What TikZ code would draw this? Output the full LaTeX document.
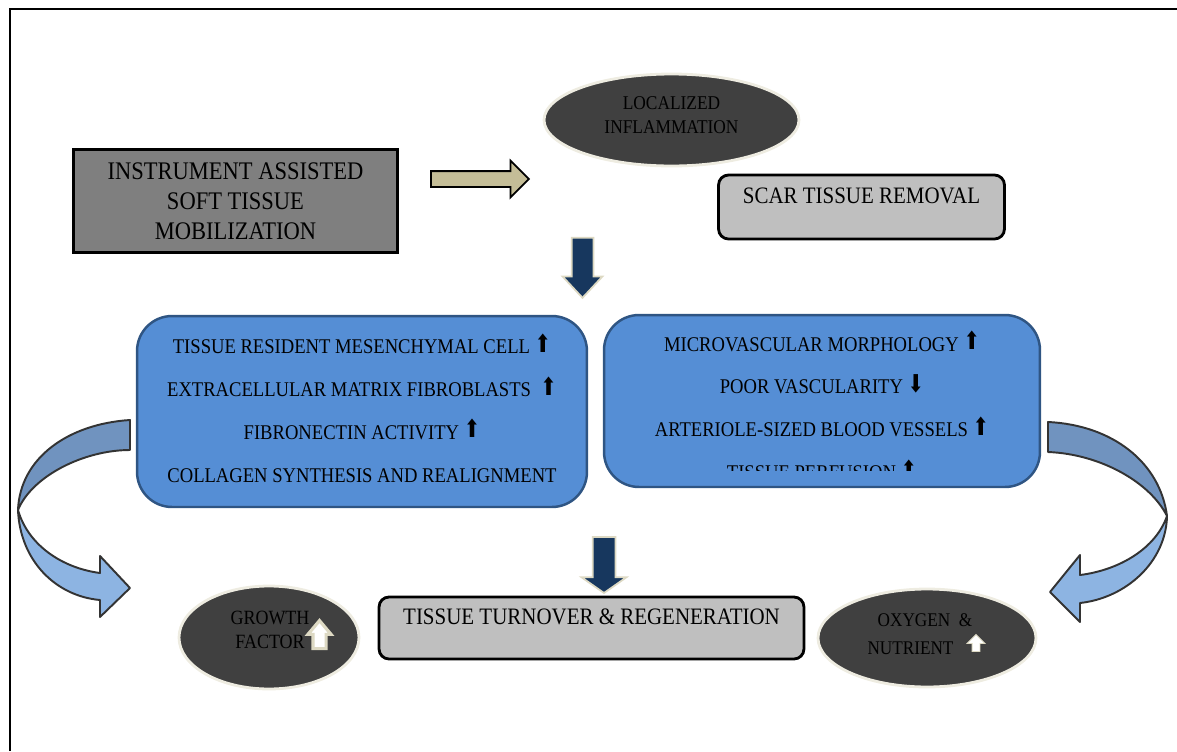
\documentclass[tikz,border=0pt]{standalone}
\usepackage{graphicx}
\usepackage{fontspec}
\setmainfont{Liberation Serif}[FakeStretch=0.89]
\newfontfamily\arrowfont{DejaVu Sans}
\usepackage{tikz}
\usetikzlibrary{shapes.geometric,shapes.arrows,positioning}

\definecolor{boxblue}{HTML}{558ED5}
\definecolor{boxedge}{HTML}{2F5583}
\definecolor{darkoval}{HTML}{404040}
\definecolor{ovaledge}{HTML}{EEECE1}
\definecolor{midgray}{HTML}{7F7F7F}
\definecolor{lightgray}{HTML}{BFBFBF}
\definecolor{arrowtan}{HTML}{C4BD97}
\definecolor{navy}{HTML}{17375E}
\definecolor{beige}{HTML}{DDD9C3}
\definecolor{ribbondark}{HTML}{7093BF}
\definecolor{ribbonlight}{HTML}{8DB4E2}

\newcommand\upmark{\raisebox{0.8pt}{\arrowfont\fontsize{14}{14}\selectfont\scalebox{0.8}[1]{⬆}}}
\newcommand\downmark{\raisebox{0.8pt}{\arrowfont\fontsize{14}{14}\selectfont\scalebox{0.8}[1]{⬇}}}

\begin{document}
\begin{tikzpicture}[x=0.02cm, y=-0.02cm]
	\tikzset{
		plainbox/.style = {rectangle, draw=black, line width=1.6pt, fill=midgray, align=center,
			font=\fontsize{14.4}{17}\selectfont},
		greybox/.style = {rectangle, rounded corners=0.2cm, draw=black, line width=1.6pt, fill=lightgray,
			font=\fontsize{13.4}{16}\selectfont, text height=0.31cm, text depth=0.44cm, inner sep=0pt},
		bluebox/.style = {rectangle, rounded corners=0.7cm, draw=boxedge, line width=1.4pt, fill=boxblue, inner sep=0pt},
		boxtext/.style = {align=center, font=\fontsize{11.9}{24.4}\selectfont},
		oval/.style = {ellipse, draw=ovaledge, line width=1.6pt, fill=darkoval, inner sep=0pt},
		ovaltext/.style = {align=center, text=black, font=\fontsize{11.1}{13.6}\selectfont},
		blockarrow/.style = {single arrow, draw, line width=1pt, single arrow tip angle=90},
		ribbon/.style = {draw=black!80, line width=1.1pt, line join=round},
	}
	\useasboundingbox (0,0) rectangle (1177,751);
	\draw[line width=1.4pt] (10,751) -- (10,9) -- (1177,9);

	% top row
	\node[plainbox, minimum width=6.48cm, minimum height=2.06cm] (iastm) at (235.5,201)
		{INSTRUMENT ASSISTED\\ SOFT TISSUE\\ MOBILIZATION};
	\node[oval, minimum width=5.1cm, minimum height=1.84cm] (inflam) at (671.5,120) {};
	\node[ovaltext] (inflamtext) at (671.5,115) {LOCALIZED\\ INFLAMMATION};
	\node[greybox, minimum width=5.72cm, minimum height=1.28cm] (scar) at (861.5,207) {SCAR TISSUE REMOVAL};

	\node[blockarrow, fill=arrowtan, minimum height=1.96cm, inner sep=0.14cm,
		single arrow head extend=0.21cm] (toright) at (476,179) {};
	\node[blockarrow, draw=beige, fill=navy, rotate=-90, minimum height=1.2cm, inner sep=0.2cm,
		single arrow head extend=0.18cm, single arrow tip angle=86] (down1) at (582.5,262) {};

	% middle boxes
	\node[bluebox, minimum width=9cm, minimum height=3.82cm] (cells) at (362,411.5) {};
	\node[boxtext] (cellstext) at (362,408) {TISSUE RESIDENT MESENCHYMAL CELL \upmark\\
		EXTRACELLULAR MATRIX FIBROBLASTS \ \upmark\\
		FIBRONECTIN ACTIVITY \upmark\\
		COLLAGEN SYNTHESIS AND REALIGNMENT};
	\node[bluebox, minimum width=8.72cm, minimum height=3.44cm] (vessels) at (822,401) {};
	\begin{scope}
		\clip (604,315) rectangle (1040,470);
		\node[boxtext] (vesselstext) at (822,405.5) {MICROVASCULAR MORPHOLOGY \upmark\\
			POOR VASCULARITY \downmark\\
			ARTERIOLE-SIZED BLOOD VESSELS \upmark\\
			TISSUE PERFUSION \upmark};
	\end{scope}

	% curved arrows
	\filldraw[ribbon, fill=ribbondark] (130,420) .. controls (68,424) and (20,458) .. (18,510)
		.. controls (32,476) and (84,450) .. (130,450) -- cycle;
	\filldraw[ribbon, fill=ribbonlight] (18,510) .. controls (20,560) and (55,596) .. (100,600)
		-- (100,617) -- (130,588) -- (100,556) -- (100,573)
		.. controls (62,568) and (28,545) .. (18,510) -- cycle;
	\filldraw[ribbon, fill=ribbondark] (1048,422) .. controls (1112,425) and (1160,462) .. (1167,516)
		.. controls (1150,482) and (1100,454) .. (1048,452) -- cycle;
	\filldraw[ribbon, fill=ribbonlight] (1167,516) .. controls (1166,562) and (1126,598) .. (1080,603)
		-- (1080,622) -- (1050,592) -- (1080,555) -- (1080,575)
		.. controls (1120,570) and (1156,548) .. (1167,516) -- cycle;

	% bottom row
	\node[blockarrow, draw=beige, fill=navy, rotate=-90, minimum height=1.12cm, inner sep=0.21cm,
		single arrow head extend=0.22cm, single arrow tip angle=110] (down2) at (604,561) {};
	\node[greybox, minimum width=8.5cm, minimum height=1.24cm] (turnover) at (591.5,628)
		{TISSUE TURNOVER \& REGENERATION};
	\node[oval, minimum width=3.6cm, minimum height=2.06cm] (growth) at (269,637.5) {};
	\node[ovaltext, font=\fontsize{11.5}{13.6}\selectfont] (growthtext) at (270,630) {GROWTH\\ FACTOR};
	\node[single arrow, draw=beige, fill=white, line width=1.8pt, rotate=90, minimum height=0.56cm,
		inner sep=0.1cm, single arrow head extend=0.1cm, single arrow tip angle=80] (growthup) at (319.5,638.5) {};
	\node[oval, minimum width=4.36cm, minimum height=1.96cm] (oxygen) at (927,638) {};
	\node[ovaltext, font=\fontsize{11}{15.9}\selectfont] (oxygentext) at (925,634)
		{OXYGEN \ \&\\ NUTRIENT\makebox[0.58cm]{}};
	\node[single arrow, draw=beige, fill=white, line width=0.5pt, rotate=90, minimum height=0.34cm,
		inner sep=0.07cm, single arrow head extend=0.1cm] (nutrientup) at (976,645) {};
\end{tikzpicture}
\end{document}
